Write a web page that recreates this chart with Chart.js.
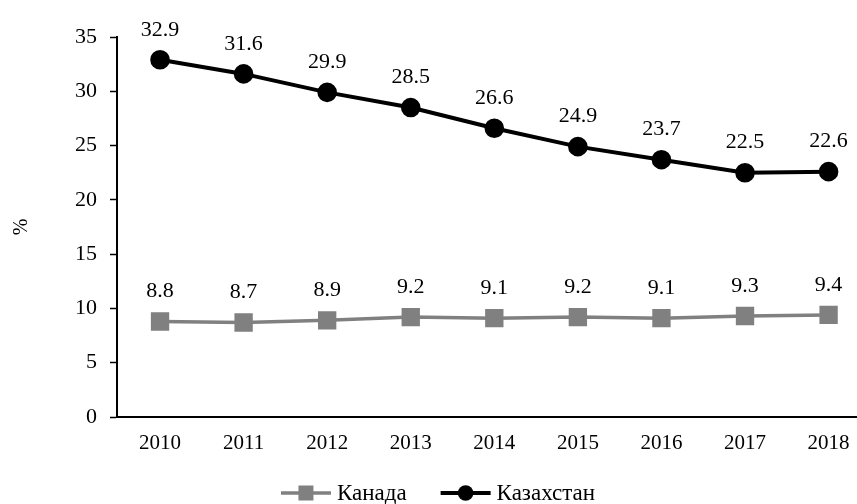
<!DOCTYPE html>
<html>
<head>
<meta charset="utf-8">
<script src="https://cdn.jsdelivr.net/npm/chart.js@4"></script>
<style>
  html, body { margin: 0; padding: 0; background: #fff; }
  #wrap { width: 857px; height: 504px; }
</style>
</head>
<body>
<div id="wrap"><canvas id="chart" width="857" height="504"></canvas></div>
<script>
// Data
const years = ['2010', '2011', '2012', '2013', '2014', '2015', '2016', '2017', '2018'];
const canada = [8.8, 8.7, 8.9, 9.2, 9.1, 9.2, 9.1, 9.3, 9.4];
const kazakhstan = [32.9, 31.6, 29.9, 28.5, 26.6, 24.9, 23.7, 22.5, 22.6];
const yTicks = [0, 5, 10, 15, 20, 25, 30, 35];

const FONT = '"Liberation Serif", "Times New Roman", serif';
const GRAY = '#808080';

// value labels above each point
const valueLabels = {
    id: 'valueLabels',
    afterDatasetsDraw(chart) {
        const ctx = chart.ctx;
        ctx.save();
        ctx.font = '22px ' + FONT;
        ctx.fillStyle = '#000';
        ctx.textAlign = 'center';
        ctx.textBaseline = 'middle';
        chart.data.datasets.forEach((ds, i) => {
            chart.getDatasetMeta(i).data.forEach((pt, j) => {
                ctx.fillText(ds.data[j].y.toFixed(1), pt.x, pt.y - 30);
            });
        });
        ctx.restore();
    }
};

// legend at bottom: line + marker, then name
const bottomLegend = {
    id: 'bottomLegend',
    afterDraw(chart) {
        const ctx = chart.ctx;
        ctx.save();
        ctx.font = '23px ' + FONT;
        const lineLen = 50, gap = 6, itemGap = 34;
        const items = chart.data.datasets.map(ds => ({ds, w: ctx.measureText(ds.label).width}));
        const total = items.reduce((s, it) => s + lineLen + gap + it.w, 0) + itemGap * (items.length - 1);
        let x = 438 - total / 2;
        const y = 493;
        items.forEach(it => {
            const ds = it.ds;
            ctx.strokeStyle = ds.borderColor;
            ctx.lineWidth = ds.borderWidth;
            ctx.beginPath();
            ctx.moveTo(x, y);
            ctx.lineTo(x + lineLen, y);
            ctx.stroke();
            ctx.fillStyle = ds.pointBackgroundColor;
            const cx = x + lineLen / 2;
            if (ds.pointStyle === 'rect') {
                ctx.fillRect(cx - 7.5, y - 7.5, 15, 15);
            } else {
                ctx.beginPath();
                ctx.arc(cx, y, 7.8, 0, Math.PI * 2);
                ctx.fill();
            }
            ctx.fillStyle = '#000';
            ctx.textAlign = 'left';
            ctx.textBaseline = 'alphabetic';
            ctx.fillText(ds.label, x + lineLen + gap, y + 7);
            x += lineLen + gap + it.w + itemGap;
        });
        ctx.restore();
    }
};

const chart = new Chart(document.getElementById('chart').getContext('2d'), {
    type: 'line',
    data: {
        datasets: [{
            label: 'Канада',
            data: years.map((y, i) => ({x: i, y: canada[i]})),
            borderColor: GRAY,
            backgroundColor: GRAY,
            pointBackgroundColor: GRAY,
            pointBorderColor: GRAY,
            borderWidth: 3.5,
            pointStyle: 'rect',
            pointRadius: 10.5,
            pointHoverRadius: 10.5,
            tension: 0
        }, {
            label: 'Казахстан',
            data: years.map((y, i) => ({x: i, y: kazakhstan[i]})),
            borderColor: '#000',
            backgroundColor: '#000',
            pointBackgroundColor: '#000',
            pointBorderColor: '#000',
            borderWidth: 4,
            pointStyle: 'circle',
            pointRadius: 7.8,
            pointHoverRadius: 7.8,
            tension: 0
        }]
    },
    options: {
        responsive: false,
        animation: false,
        layout: { autoPadding: false, padding: { top: 37, right: 0, bottom: 0, left: 0 } },
        plugins: {
            legend: { display: false },
            tooltip: { enabled: false }
        },
        scales: {
            x: {
                type: 'linear',
                min: -0.515,
                max: 8.34,
                afterBuildTicks: s => { s.ticks = years.map((y, i) => ({value: i})); },
                afterFit: s => { s.height = 87; s.paddingLeft = 0; s.paddingRight = 0; },
                grid: { drawOnChartArea: false, drawTicks: false },
                border: { display: true, color: '#000', width: 2 },
                ticks: {
                    autoSkip: false,
                    maxRotation: 0,
                    padding: 14,
                    color: '#000',
                    font: { family: FONT, size: 21 },
                    callback: v => years[v]
                }
            },
            y: {
                min: 0,
                max: 35,
                afterBuildTicks: s => { s.ticks = yTicks.map(v => ({value: v})); },
                afterFit: s => { s.width = 117; },
                grid: { drawOnChartArea: false, tickLength: 7, tickColor: '#000', tickWidth: 1.5 },
                border: { display: true, color: '#000', width: 2 },
                title: {
                    display: true,
                    text: '%',
                    color: '#000',
                    font: { family: FONT, size: 20 },
                    padding: { top: 10, bottom: 0 }
                },
                ticks: {
                    padding: 13,
                    color: '#000',
                    font: { family: FONT, size: 22 }
                }
            }
        }
    },
    plugins: [valueLabels, bottomLegend]
});
</script>
</body>
</html>
